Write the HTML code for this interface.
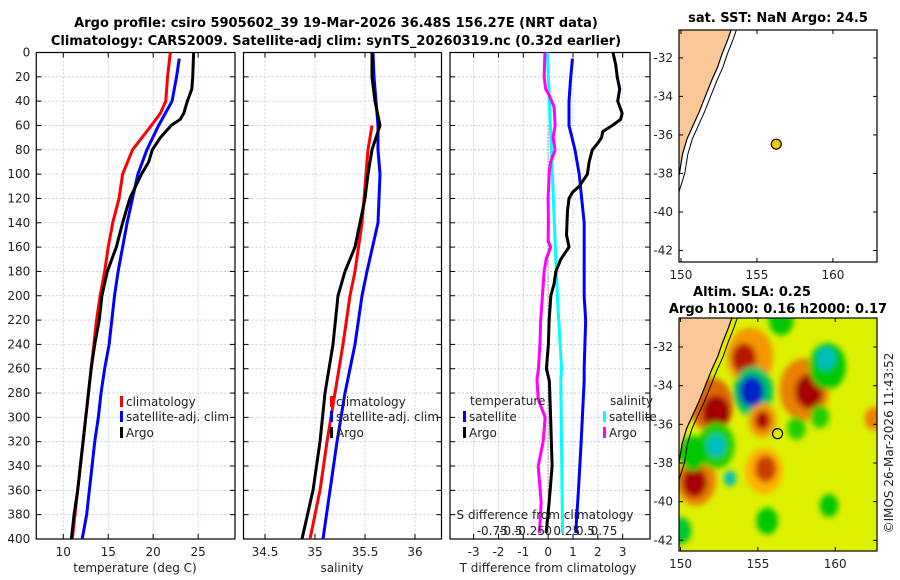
<!DOCTYPE html>
<html><head><meta charset="utf-8">
<style>
html,body{margin:0;padding:0;background:#fff;}
svg{display:block;font-family:"DejaVu Sans","Liberation Sans",sans-serif;}
.t{font-size:12px;fill:#222;}
.tb{font-size:13px;font-weight:bold;fill:#000;}
</style></head>
<body>
<svg id="fig" width="900" height="580" viewBox="0 0 900 580" xmlns="http://www.w3.org/2000/svg">
<defs>
<filter id="blur" x="-50%" y="-50%" width="200%" height="200%"><feGaussianBlur stdDeviation="3"/></filter>
<clipPath id="clipM1"><rect x="679" y="30" width="198" height="232"/></clipPath>
<clipPath id="clipM2"><rect x="679" y="318" width="198" height="233"/></clipPath>
</defs>
<text class="tb" x="336" y="27" text-anchor="middle">Argo profile: csiro 5905602_39 19-Mar-2026 36.48S 156.27E (NRT data)</text>
<text class="tb" x="336" y="45" text-anchor="middle">Climatology: CARS2009. Satellite-adj clim: synTS_20260319.nc (0.32d earlier)</text>
<text class="tb" x="778" y="22" text-anchor="middle">sat. SST: NaN Argo: 24.5</text>
<text class="tb" x="752" y="296" text-anchor="middle">Altim. SLA: 0.25</text>
<text class="tb" x="778" y="313" text-anchor="middle">Argo h1000: 0.16 h2000: 0.17</text>
<text class="t" transform="translate(893,443) rotate(-90)" text-anchor="middle">©IMOS 26-Mar-2026 11:43:52</text>
<g id="g1"></g><g id="g2"></g><g id="g3"></g><g id="m1"></g><g id="m2"></g>
</svg>
<script>
// ---- data ----
const depthTicks=[0,20,40,60,80,100,120,140,160,180,200,220,240,260,280,300,320,340,360,380,400];
const tTicks=[10,15,20,25];
const sTicks=[34.5,35,35.5,36];
const dTicks=[-3,-2,-1,0,1,2,3];
const sdTickLabels=[-0.75,-0.5,-0.25,0,0.25,0.5,0.75];
// temperature panel
const climTdep=[0,20,40,50,60,80,100,120,140,160,180,200,220,240,260,280,300,320,340,360,380,400];
const climT=[21.9,21.6,21.4,20.8,19.8,17.7,16.6,16.2,15.5,15.0,14.6,14.1,13.7,13.4,13.1,12.8,12.5,12.2,11.9,11.6,11.3,11.0];
const satTdep=[5,20,40,60,80,100,120,140,160,180,200,220,240,260,280,300,320,340,360,380,400];
const satT=[22.9,22.6,22.1,20.6,19.3,18.3,17.7,17.1,16.6,16.1,15.7,15.4,15.1,14.6,14.2,13.9,13.5,13.2,12.9,12.6,12.1];
const argoTdep=[0,20,30,40,50,55,60,70,80,90,100,120,140,160,180,200,220,240,260,280,300,320,340,360,380,400];
const argoT=[24.5,24.4,24.3,23.8,23.4,23.0,22.0,20.8,19.9,19.5,18.7,17.4,16.6,15.9,14.9,14.3,14.0,13.5,13.1,12.8,12.5,12.2,11.9,11.6,11.2,10.9];
// salinity panel
const climSdep=[60,80,100,140,180,200,240,280,320,360,400];
const climS=[35.57,35.53,35.51,35.47,35.40,35.35,35.28,35.20,35.12,35.05,34.95];
const satSdep=[0,20,40,60,80,100,140,180,200,240,280,320,360,400];
const satS=[35.58,35.59,35.61,35.63,35.63,35.65,35.63,35.52,35.47,35.40,35.30,35.22,35.15,35.08];
const argoSdep=[0,20,40,60,80,100,120,140,160,180,200,240,280,320,360,400];
const argoS=[35.57,35.57,35.60,35.65,35.57,35.53,35.50,35.45,35.40,35.30,35.23,35.18,35.10,35.05,34.98,34.87];
// difference panel (salinity differences given in plotted T-axis units)
const satDTdep=[5,20,40,60,80,100,120,140,160,200,220,260,270,320,360,395];
const satDT=[0.98,0.91,0.84,0.84,1.08,1.25,1.35,1.45,1.45,1.45,1.51,1.45,1.45,1.33,1.22,1.11];
const argoDTdep=[0,10,20,30,40,50,55,60,65,70,75,80,90,100,110,115,120,130,150,160,170,180,190,200,220,240,260,270,300,340,370,395];
const argoDT=[2.61,2.72,2.78,2.88,2.80,2.98,2.92,2.58,2.2,2.15,1.98,1.78,1.65,1.58,1.25,0.98,0.84,0.78,0.74,0.84,0.51,0.31,0.24,0.11,0.04,0.01,-0.07,0.05,0.1,0.16,0.04,-0.08];
const satDSdep=[0,100,200,260,269,395];
const satDS=[-0.03,0.17,0.37,0.54,0.51,0.58];
const argoDSdep=[0,20,30,35,45,60,70,80,90,100,120,140,155,160,170,180,200,220,240,260,269,285,300,320,340,370,395];
const argoDS=[-0.13,-0.16,-0.10,0.04,0.24,0.28,0.20,0.28,0.10,0.04,0,0.01,0,0.1,-0.08,-0.16,-0.23,-0.3,-0.33,-0.39,-0.45,-0.4,-0.12,-0.2,-0.4,-0.28,-0.35];
// maps
const latTicks=[-32,-34,-36,-38,-40,-42];
const lonTicks=[150,155,160];
const coastLon=[153.4,153.1,152.7,152.4,152.0,151.6,151.2,150.8,150.4,150.1,149.9,149.5];
const coastLat=[-30.3,-31.0,-31.8,-32.5,-33.2,-34.0,-34.8,-35.5,-36.2,-37.0,-38.0,-39];
const argoLon=156.27, argoLat=-36.48;
const blobLon=[154.5,154.1,152.0,152.3,158.0,158.3,154.7,154.6,155.3,155.3,151.0,150.9,155.4,155.5,152.3,152.3,153.2,159.5,159.4,157.5,159.0,155.6,159.6,150.0,156.5,162.5,150.8];
const blobLat=[-32.5,-32.6,-35.0,-35.4,-34.2,-34.3,-34.3,-34.3,-35.8,-35.8,-38.9,-39.0,-38.4,-38.3,-37.1,-37.1,-38.8,-33.0,-32.6,-36.2,-35.6,-41.0,-40.2,-41.5,-30.6,-35.7,-37.5];
const blobVal=[0.4,0.7,0.5,0.9,0.45,0.85,-0.4,-0.9,0.4,0.75,0.45,0.85,0.35,0.6,-0.25,-0.5,-0.5,-0.3,-0.5,-0.25,-0.25,-0.3,-0.3,-0.35,-0.3,0.45,-0.3];
const blobR=[1.5,0.8,1.4,0.9,1.6,0.9,1.3,0.8,0.9,0.5,1.3,0.8,1.2,0.7,1.2,0.6,0.4,1.2,0.6,0.6,0.6,0.7,0.6,0.7,0.8,0.6,0.9];

const NS='http://www.w3.org/2000/svg';
function mk(tag,attrs,parent){const e=document.createElementNS(NS,tag);for(const k in attrs)e.setAttribute(k,attrs[k]);parent.appendChild(e);return e;}
const Y0=52.5,Y1=539;
const yD=d=>Y0+d*(Y1-Y0)/400;

function panel(g,x0,x1,xmin,xmax,ticks,showY,name){
  const sx=v=>x0+(v-xmin)*(x1-x0)/(xmax-xmin);
  for(const t of ticks){const l=mk('line',{x1:sx(t),x2:sx(t),y1:Y0,y2:Y1,stroke:'#b8c4e8','stroke-width':0.8,'stroke-dasharray':'2,2'},g);
    
    }
  for(const d of depthTicks){const l=mk('line',{x1:x0,x2:x1,y1:yD(d),y2:yD(d),stroke:'#b8c4e8','stroke-width':0.8,'stroke-dasharray':'2,2'},g);
    
    
    mk('line',{x1:x0,x2:x0+5,y1:yD(d),y2:yD(d),stroke:'#000'},g);
    mk('line',{x1:x1-5,x2:x1,y1:yD(d),y2:yD(d),stroke:'#000'},g);
    if(showY){const t=mk('text',{x:x0-6,y:yD(d)+4,'text-anchor':'end',class:'t'},g);t.textContent=d;
      
      }}
  for(const t of ticks){mk('line',{x1:sx(t),x2:sx(t),y1:Y1,y2:Y1-5,stroke:'#000'},g);mk('line',{x1:sx(t),x2:sx(t),y1:Y0,y2:Y0+5,stroke:'#000'},g);
    const tx=mk('text',{x:sx(t),y:Y1+17,'text-anchor':'middle',class:'t'},g);tx.textContent=t;
    
    }
  const r=mk('rect',{x:x0,y:Y0,width:x1-x0,height:Y1-Y0,fill:'none',stroke:'#000','stroke-width':1.2},g);
  
  
  return sx;
}
function line(g,sx,xs,ds,color,name,w){
  const p=mk('polyline',{points:xs.map((v,i)=>sx(v)+','+yD(ds[i])).join(' '),fill:'none',stroke:color,'stroke-width':w||3,'stroke-linejoin':'round'},g);
  
  
}
function txt(g,x,y,s,name,anchor){const t=mk('text',{x:x,y:y,class:'t','text-anchor':anchor||'start'},g);t.textContent=s;
  
  return t;}
function leg(g,x,y,color,label,name){
  const r=mk('rect',{x:x,y:y-10,width:3,height:11,fill:color},g);
  
  
  txt(g,x+6,y,label,name);
}
// panel 1
const g1=document.getElementById('g1');
const sx1=panel(g1,36.3,235,7,29.1,tTicks,true,'temperature-panel');
line(g1,sx1,climT,climTdep,'#f00','climatology-temp-line');
line(g1,sx1,satT,satTdep,'#00f','satellite-temp-line');
line(g1,sx1,argoT,argoTdep,'#000','argo-temp-line');
txt(g1,135,572,'temperature (deg C)','x-axis-title-temperature','middle');
leg(g1,120,406,'#f00','climatology','legend-climatology');
leg(g1,120,421,'#00f','satellite-adj. clim','legend-satellite-adj');
leg(g1,120,437,'#000','Argo','legend-argo');
// panel 2
const g2=document.getElementById('g2');
const sx2=panel(g2,243.5,441.5,34.285,36.265,sTicks,false,'salinity-panel');
line(g2,sx2,climS,climSdep,'#f00','climatology-salinity-line');
line(g2,sx2,satS,satSdep,'#00f','satellite-salinity-line');
line(g2,sx2,argoS,argoSdep,'#000','argo-salinity-line');
txt(g2,342,572,'salinity','x-axis-title-salinity','middle');
leg(g2,330,406,'#f00','climatology','legend-climatology-2');
leg(g2,330,421,'#00f','satellite-adj. clim','legend-satellite-adj-2');
leg(g2,330,437,'#000','Argo','legend-argo-2');
// panel 3
const g3=document.getElementById('g3');
const sx3=panel(g3,450,650,-3.95,4.1,dTicks,false,'difference-panel');
const z=mk('line',{x1:sx3(0),x2:sx3(0),y1:yD(60),y2:Y1,stroke:'#555','stroke-width':1,'stroke-dasharray':'1,2'},g3);


line(g3,sx3,satDS,satDSdep,'#0ff','satellite-salinity-diff-line');
line(g3,sx3,argoDS,argoDSdep,'#f0f','argo-salinity-diff-line');
line(g3,sx3,satDT,satDTdep,'#00f','satellite-temp-diff-line');
line(g3,sx3,argoDT,argoDTdep,'#000','argo-temp-diff-line');
txt(g3,548,572,'T difference from climatology','x-axis-title-tdiff','middle');
txt(g3,545,519,'S difference from climatology','s-diff-axis-title','middle');
for(const s of sdTickLabels){txt(g3,sx3(s*3),535,String(s),'s-diff-tick-label','middle');}
txt(g3,470,405,'temperature','legend-temperature-header');
leg(g3,463,421,'#00f','satellite','legend-temp-satellite');
leg(g3,463,437,'#000','Argo','legend-temp-argo');
txt(g3,610,405,'salinity','legend-salinity-header');
leg(g3,603,421,'#0ff','satellite','legend-sal-satellite');
leg(g3,603,437,'#f0f','Argo','legend-sal-argo');

// maps
function mapAxes(g,x0,y0,w,h,lonMin,lonMax,latTop,latBot,name){
  const mx=v=>x0+(v-lonMin)*w/(lonMax-lonMin);
  const my=v=>y0+(latTop-v)*h/(latTop-latBot);
  return {mx,my,frame:()=>{
    for(const t of latTicks){mk('line',{x1:x0,x2:x0+4,y1:my(t),y2:my(t),stroke:'#000'},g);mk('line',{x1:x0+w-4,x2:x0+w,y1:my(t),y2:my(t),stroke:'#000'},g);
      txt(g,x0-6,my(t)+4,String(t),'lat-tick-label','end');}
    for(const t of lonTicks){mk('line',{x1:mx(t),x2:mx(t),y1:y0+h,y2:y0+h-4,stroke:'#000'},g);mk('line',{x1:mx(t),x2:mx(t),y1:y0,y2:y0+4,stroke:'#000'},g);
      txt(g,mx(t),y0+h+17,String(t),'lon-tick-label','middle');}
    const r=mk('rect',{x:x0,y:y0,width:w,height:h,fill:'none',stroke:'#000','stroke-width':1.2},g);
    
    
  }};
}
function land(g,mx,my,name){
  let pts=coastLon.map((v,i)=>mx(v)+','+my(coastLat[i]));
  const p=mk('polygon',{points:pts.join(' ')+' '+mx(140)+','+my(-39)+' '+mx(140)+','+my(-30),fill:'#fac896',stroke:'none'},g);
  
  
  const c=mk('polyline',{points:pts.join(' '),fill:'none',stroke:'#000','stroke-width':1.2},g);
  
  
  const s=mk('polyline',{points:coastLon.map((v,i)=>mx(v+0.35)+','+my(coastLat[i])).join(' '),fill:'none',stroke:'#000','stroke-width':1},g);
  
  
}
// map 1
const m1=document.getElementById('m1');
const A1=mapAxes(m1,679,30,198,232,149.87,162.9,-30.55,-42.6,'sst-map');
const c1=mk('g',{'clip-path':'url(#clipM1)'},m1);
land(c1,A1.mx,A1.my,'sst-map');
const d1=mk('circle',{cx:A1.mx(argoLon),cy:A1.my(argoLat),r:5,fill:'#f0c800',stroke:'#000','stroke-width':1.2},m1);


A1.frame();
// map 2
const stops=[[-1,[0,0,170]],[-0.7,[0,96,255]],[-0.5,[0,190,190]],[-0.3,[0,200,0]],[-0.1,[128,224,0]],[0,[200,240,0]],[0.15,[240,240,0]],[0.35,[255,176,0]],[0.55,[208,80,0]],[0.75,[176,0,0]],[1,[150,0,0]]];
function col(v){v=Math.max(-1,Math.min(1,v));for(let i=1;i<stops.length;i++){if(v<=stops[i][0]){const a=stops[i-1],b=stops[i],f=(v-a[0])/(b[0]-a[0]);const c=a[1].map((x,k)=>Math.round(x+(b[1][k]-x)*f));return 'rgb('+c.join(',')+')';}}return 'rgb(150,0,0)';}
const m2=document.getElementById('m2');
const A2=mapAxes(m2,679,318,198,233,149.9,162.7,-30.5,-42.55,'sla-map');
const c2=mk('g',{'clip-path':'url(#clipM2)'},m2);
const bg=mk('rect',{x:679,y:318,width:198,height:233,fill:col(0.08)},c2);


const bl=mk('g',{filter:'url(#blur)'},c2);
blobLon.forEach((lo,i)=>{
  const e=mk('ellipse',{cx:A2.mx(lo),cy:A2.my(blobLat[i]),rx:blobR[i]*15.4,ry:blobR[i]*19.3,fill:col(blobVal[i])},bl);
  
  
});
land(c2,A2.mx,A2.my,'sla-map');
const d2=mk('circle',{cx:A2.mx(argoLon),cy:A2.my(argoLat),r:5,fill:'none',stroke:'#000','stroke-width':1.2},m2);


A2.frame();
</script>
</body></html>
